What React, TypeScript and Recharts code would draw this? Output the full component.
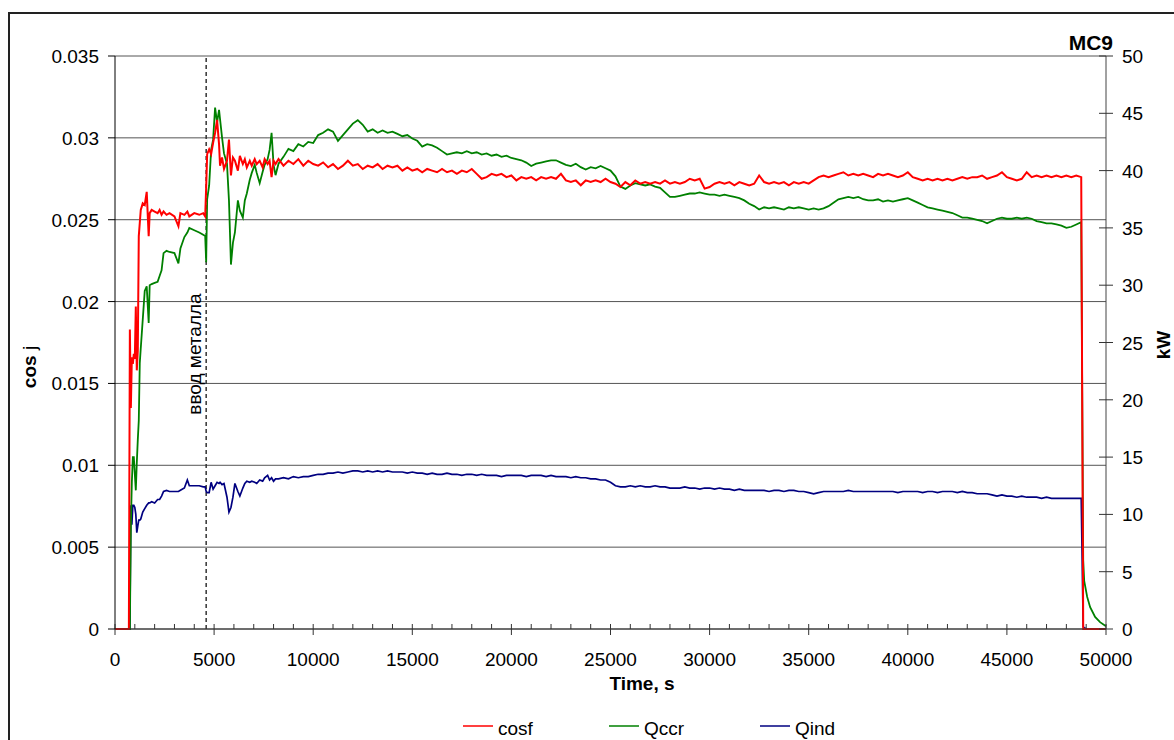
import React from "react";
import {
  LineChart,
  Line,
  XAxis,
  YAxis,
  CartesianGrid,
  ReferenceLine,
} from "recharts";

// time, s
const times = [
  0, 700, 750, 800, 850, 900, 950, 1000, 1050, 1100,
  1150, 1200, 1250, 1300, 1400, 1500, 1600, 1700, 1750, 1850,
  2000, 2150, 2250, 2350, 2450, 2600, 2750, 3000, 3200, 3300,
  3500, 3650, 3750, 4000, 4250, 4450, 4550, 4600, 4650, 4750,
  4850, 4950, 5050, 5150, 5250, 5300, 5400, 5500, 5650, 5750,
  5850, 5950, 6050, 6200, 6300, 6450, 6550, 6650, 6800, 6900,
  7050, 7150, 7300, 7450, 7550, 7700, 7800, 7900, 8000, 8100,
  8250, 8500, 8750, 9000, 9250, 9500, 9750, 10000,
  10250, 10500, 10750, 11000, 11250, 11500, 11750, 12000,
  12250, 12500, 12750, 13000, 13250, 13500, 13750, 14000,
  14250, 14500, 14750, 15000, 15250, 15500, 15750, 16000,
  16250, 16500, 16750, 17000, 17250, 17500, 17750, 18000,
  18250, 18500, 18750, 19000, 19250, 19500, 19750, 20000,
  20250, 20500, 20750, 21000, 21250, 21500, 21750, 22000,
  22250, 22500, 22750, 23000, 23250, 23500, 23750, 24000,
  24250, 24500, 24750, 25000, 25250, 25500, 25750, 26000,
  26250, 26500, 26750, 27000, 27250, 27500, 27750, 28000,
  28250, 28500, 28750, 29000, 29250, 29500, 29750, 30000,
  30250, 30500, 30750, 31000, 31250, 31500, 31750, 32000,
  32250, 32500, 32750, 33000, 33250, 33500, 33750, 34000,
  34250, 34500, 34750, 35000, 35250, 35500, 35750, 36000,
  36250, 36500, 36750, 37000, 37250, 37500, 37750, 38000,
  38250, 38500, 38750, 39000, 39250, 39500, 39750, 40000,
  40250, 40500, 40750, 41000, 41250, 41500, 41750, 42000,
  42250, 42500, 42750, 43000, 43250, 43500, 43750, 44000,
  44250, 44500, 44750, 45000, 45250, 45500, 45750, 46000,
  46250, 46500, 46750, 47000, 47250, 47500, 47750, 48000,
  48250, 48500, 48750,
  48850, 48900, 49050, 49200, 49450, 49700, 50000,
];

// cos j (left axis)
const cosf = [
  0, 0, 0.0183, 0.0135, 0.0166, 0.0162, 0.0168, 0.0165, 0.0197, 0.0158,
  0.017, 0.024, 0.0248, 0.0256, 0.026, 0.0259, 0.0267, 0.024, 0.0254, 0.0256,
  0.0255, 0.0254, 0.0256, 0.0253, 0.0255, 0.0253, 0.0254, 0.0252, 0.0246, 0.0254,
  0.0253, 0.0255, 0.0252, 0.0254, 0.0253, 0.0254, 0.0252, 0.027, 0.029, 0.0293,
  0.029, 0.0297, 0.0303, 0.0311, 0.0296, 0.0283, 0.0288, 0.0281, 0.0286, 0.0299,
  0.0277, 0.0288, 0.0286, 0.028, 0.0289, 0.0284, 0.0287, 0.0282, 0.0286, 0.0283,
  0.0287, 0.0284, 0.0286, 0.0282, 0.0287, 0.0284, 0.0286, 0.0276, 0.0286, 0.0284,
  0.0287, 0.0283, 0.0286, 0.0284, 0.0287, 0.0283, 0.0286, 0.0284,
  0.0283, 0.0285, 0.0282, 0.0284, 0.0281, 0.0283, 0.0286, 0.0283,
  0.0284, 0.0281, 0.0283, 0.0282, 0.0284, 0.0281, 0.0283, 0.0282,
  0.0283, 0.028, 0.0282, 0.028, 0.0281, 0.0279, 0.0281, 0.028,
  0.0279, 0.0281, 0.0279, 0.028, 0.0278, 0.028, 0.0279, 0.0281,
  0.0278, 0.0275, 0.0276, 0.0278, 0.0277, 0.0278, 0.0276, 0.0277,
  0.0274, 0.0276, 0.0275, 0.0276, 0.0274, 0.0276, 0.0275, 0.0276,
  0.0275, 0.0278, 0.0274, 0.0273, 0.0274, 0.0271, 0.0274, 0.0273,
  0.0274, 0.0273, 0.0275, 0.0273, 0.0272, 0.027, 0.0273, 0.0271,
  0.0274, 0.0272, 0.0273, 0.0272, 0.0273, 0.0272, 0.0274, 0.0272,
  0.0273, 0.0272, 0.0273, 0.0275, 0.0274, 0.0275, 0.0269, 0.027,
  0.0272, 0.0273, 0.0272, 0.0273, 0.0271, 0.0273, 0.0272, 0.0271,
  0.0272, 0.0277, 0.0273, 0.0272, 0.0273, 0.0272, 0.0273, 0.0271,
  0.0273, 0.0272, 0.0273, 0.0272, 0.0274, 0.0276, 0.0277, 0.0276,
  0.0277, 0.0278, 0.0279, 0.0277, 0.0278, 0.0277, 0.0278, 0.0277,
  0.0276, 0.0278, 0.0277, 0.0278, 0.0277, 0.0276, 0.0277, 0.0279,
  0.0276, 0.0275, 0.0274, 0.0275, 0.0274, 0.0275, 0.0274, 0.0275,
  0.0274, 0.0275, 0.0276, 0.0275, 0.0276, 0.0276, 0.0277, 0.0275,
  0.0276, 0.0277, 0.0279, 0.0276, 0.0275, 0.0274, 0.0275, 0.0279,
  0.0276, 0.0277, 0.0276, 0.0277, 0.0276, 0.0277, 0.0276, 0.0277,
  0.0276, 0.0277, 0.0276,
  0, 0, 0, 0, 0, 0, 0,
];

// Qccr, kW (right axis)
const qccr = [
  0, 0, 0, 9.0, 12.8, 15.0, 15.0, 13.5, 12.1, 14.5,
  16.5, 18.2, 23.2, 24.5, 27.0, 29.5, 29.9, 26.7, 30.0, 30.1,
  30.2, 30.3, 30.8, 31.3, 32.8, 33.0, 32.9, 32.8, 31.9, 33.2,
  34.2, 34.6, 35.0, 34.8, 34.6, 34.4, 34.3, 32.0, 37.5, 38.7,
  41.8, 42.7, 45.5, 44.2, 45.3, 44.5, 42.9, 41.5, 40.6, 37.4,
  31.8, 33.7, 34.6, 37.4, 36.5, 35.9, 37.4, 38.0, 39.2, 39.8,
  40.5, 39.8, 38.9, 39.9, 40.5, 41.0, 41.8, 43.3, 40.5, 39.6,
  40.6, 41.2, 41.9, 41.7, 42.3, 42.1, 42.5, 42.4,
  43.1, 43.3, 43.6, 43.4, 42.6, 43.1, 43.6, 44.1,
  44.4, 44.0, 43.4, 43.6, 43.3, 43.5, 43.3, 43.4,
  43.2, 43.0, 43.1, 42.8, 42.6, 42.1, 42.3, 42.2,
  42.0, 41.7, 41.4, 41.5, 41.6, 41.5, 41.7, 41.5,
  41.6, 41.4, 41.5, 41.3, 41.4, 41.2, 41.3, 41.1,
  41.0, 40.9, 40.7, 40.4, 40.6, 40.7, 40.8, 40.9,
  40.9, 40.7, 40.5, 40.4, 40.6, 40.3, 40.1, 40.3,
  40.2, 40.4, 40.2, 40.0, 39.5, 38.6, 38.4, 38.7,
  38.9, 38.8, 38.7, 38.8, 38.6, 38.5, 38.1, 37.7,
  37.7, 37.8, 37.9, 38.0, 38.0, 38.1, 38.0, 37.9,
  37.9, 37.8, 37.9, 37.8, 37.7, 37.6, 37.4, 37.1,
  36.9, 36.6, 36.8, 36.7, 36.8, 36.7, 36.6, 36.8,
  36.7, 36.8, 36.7, 36.6, 36.7, 36.6, 36.7, 36.9,
  37.2, 37.5, 37.6, 37.7, 37.6, 37.7, 37.5, 37.4,
  37.4, 37.5, 37.3, 37.4, 37.3, 37.4, 37.5, 37.6,
  37.4, 37.2, 37.0, 36.8, 36.7, 36.6, 36.5, 36.4,
  36.3, 36.1, 35.9, 35.9, 35.8, 35.7, 35.6, 35.4,
  35.6, 35.8, 35.9, 35.8, 35.8, 35.9, 35.8, 35.9,
  35.8, 35.6, 35.5, 35.4, 35.4, 35.3, 35.2, 35.0,
  35.1, 35.3, 35.5,
  6.0, 4.2, 2.8, 1.9, 1.05, 0.6, 0.25,
];

// Qind, kW (right axis)
const qind = [
  0, 0, 0, 10.8, 9.1, 10.8, 10.8, 10.6, 10.0, 8.4,
  9.0, 9.5, 9.5, 9.6, 10.2, 10.5, 10.8, 11.0, 11.0, 11.1,
  11.0, 11.3, 11.3, 11.6, 12.0, 12.1, 12.0, 12.0, 12.0, 12.1,
  12.3, 13.0, 12.5, 12.5, 12.5, 12.4, 12.4, 12.0, 11.9, 11.9,
  12.8, 12.2, 12.5, 12.8, 12.7, 12.8, 12.6, 12.7, 11.5, 10.2,
  10.6, 11.5, 12.7, 12.0, 11.6, 12.3, 12.7, 12.9, 12.8, 12.9,
  12.8, 12.7, 13.0, 12.9, 13.2, 13.4, 13.0, 13.2, 12.9, 13.1,
  13.1, 13.2, 13.1, 13.3, 13.2, 13.3, 13.3, 13.4,
  13.5, 13.5, 13.6, 13.6, 13.7, 13.6, 13.7, 13.8,
  13.8, 13.7, 13.8, 13.7, 13.8, 13.7, 13.8, 13.7,
  13.7, 13.7, 13.6, 13.7, 13.6, 13.6, 13.5, 13.6,
  13.5, 13.5, 13.6, 13.5, 13.5, 13.4, 13.5, 13.5,
  13.4, 13.5, 13.4, 13.4, 13.4, 13.3, 13.4, 13.4,
  13.4, 13.4, 13.3, 13.4, 13.4, 13.4, 13.3, 13.4,
  13.3, 13.3, 13.3, 13.2, 13.3, 13.2, 13.2, 13.1,
  13.1, 13.0, 13.0, 12.8, 12.5, 12.4, 12.4, 12.5,
  12.4, 12.5, 12.4, 12.4, 12.5, 12.4, 12.4, 12.3,
  12.3, 12.3, 12.4, 12.3, 12.3, 12.2, 12.3, 12.3,
  12.2, 12.3, 12.2, 12.2, 12.1, 12.2, 12.1, 12.1,
  12.1, 12.1, 12.1, 12.0, 12.1, 12.1, 12.0, 12.1,
  12.1, 12.0, 12.0, 11.9, 11.8, 11.9, 12.0, 12.0,
  12.0, 12.0, 12.0, 12.1, 12.0, 12.0, 12.0, 12.0,
  12.0, 12.0, 12.0, 12.0, 12.0, 11.9, 12.0, 12.0,
  12.0, 12.0, 11.9, 12.0, 12.0, 11.9, 12.0, 12.0,
  12.0, 11.9, 12.0, 11.9, 11.9, 11.8, 11.8, 11.8,
  11.7, 11.6, 11.7, 11.6, 11.6, 11.5, 11.6, 11.5,
  11.5, 11.5, 11.4, 11.5, 11.4, 11.4, 11.4, 11.4,
  11.4, 11.4, 11.4,
  0.2, 0.1, 0, 0, 0, 0, 0,
];

const timeTicks = [
  0, 1000, 2000, 3000, 4000, 5000, 6000, 7000, 8000, 9000,
  10000, 11000, 12000, 13000, 14000, 15000, 16000, 17000, 18000, 19000,
  20000, 21000, 22000, 23000, 24000, 25000, 26000, 27000, 28000, 29000,
  30000, 31000, 32000, 33000, 34000, 35000, 36000, 37000, 38000, 39000,
  40000, 41000, 42000, 43000, 44000, 45000, 46000, 47000, 48000, 49000,
  50000,
];
const cosTicks = [0, 0.005, 0.01, 0.015, 0.02, 0.025, 0.03, 0.035];
const kwTicks = [0, 5, 10, 15, 20, 25, 30, 35, 40, 45, 50];

const metalInTime = 4600;

const seriesNames = ["cosf", "Qccr", "Qind"];
const seriesColors = ["#ff0000", "#008000", "#000080"];

const data = times.map((t, i) => ({
  t,
  cosf: cosf[i],
  qccr: qccr[i],
  qind: qind[i],
}));

const FONT = "'Liberation Sans', Arial, sans-serif";

function TimeTick({ x, y, payload }: any) {
  const major = payload.value % 5000 === 0;
  return (
    <g>
      <line x1={x} x2={x} y1={y - 5} y2={major ? y + 6 : y} stroke="#333" />
      {major && (
        <text x={x} y={y + 37} textAnchor="middle" fontSize={19} fill="#000" fontFamily={FONT}>
          {payload.value}
        </text>
      )}
    </g>
  );
}

function CosTick({ x, y, payload }: any) {
  return (
    <g>
      <line x1={x - 7} x2={x} y1={y} y2={y} stroke="#000" />
      <text x={x - 16} y={y + 7} textAnchor="end" fontSize={19} fill="#000" fontFamily={FONT}>
        {payload.value}
      </text>
    </g>
  );
}

function KwTick({ x, y, payload }: any) {
  return (
    <g>
      <line x1={x - 7} x2={x + 7} y1={y} y2={y} stroke="#333" />
      <text x={x + 16} y={y + 7} textAnchor="start" fontSize={19} fill="#000" fontFamily={FONT}>
        {payload.value}
      </text>
    </g>
  );
}

const legendX = [463, 609, 760];

export default function App() {
  return (
    <div style={{ position: "relative", width: 1174, height: 740, overflow: "hidden", background: "#fff" }}>
      <style>{`body{margin:0;overflow:hidden}`}</style>
      <div
        style={{
          position: "absolute",
          left: 8,
          top: 12,
          width: 1180,
          height: 760,
          border: "2px solid #222",
        }}
      />
      <div style={{ position: "absolute", left: 0, top: 0 }}>
        <LineChart
          width={1174}
          height={740}
          data={data}
          margin={{ top: 56, right: 8, bottom: 71, left: 55 }}
        >
          <CartesianGrid yAxisId="left" vertical={false} stroke="#555" strokeWidth={1} />
          <XAxis
            dataKey="t"
            type="number"
            domain={[0, 50000]}
            ticks={timeTicks}
            interval={0}
            height={40}
            tickSize={0}
            tickMargin={0}
            tick={<TimeTick />}
            axisLine={{ stroke: "#333" }}
          />
          <YAxis
            yAxisId="left"
            type="number"
            domain={[0, 0.035]}
            ticks={cosTicks}
            interval={0}
            width={60}
            tickSize={0}
            tickMargin={0}
            tick={<CosTick />}
            axisLine={{ stroke: "#000" }}
          />
          <YAxis
            yAxisId="right"
            orientation="right"
            type="number"
            domain={[0, 50]}
            ticks={kwTicks}
            interval={0}
            width={60}
            tickSize={0}
            tickMargin={0}
            tick={<KwTick />}
            axisLine={{ stroke: "#444" }}
          />
          <ReferenceLine
            yAxisId="left"
            x={metalInTime}
            stroke="#333"
            strokeWidth={1.5}
            strokeDasharray="4 3"
          />
          <Line
            yAxisId="right"
            dataKey="qind"
            stroke={seriesColors[2]}
            strokeWidth={1.7}
            dot={false}
            isAnimationActive={false}
            type="linear"
          />
          <Line
            yAxisId="right"
            dataKey="qccr"
            stroke={seriesColors[1]}
            strokeWidth={1.8}
            dot={false}
            isAnimationActive={false}
            type="linear"
          />
          <Line
            yAxisId="left"
            dataKey="cosf"
            stroke={seriesColors[0]}
            strokeWidth={2}
            dot={false}
            isAnimationActive={false}
            type="linear"
          />
        </LineChart>
      </div>
      <svg
        width={1174}
        height={740}
        style={{ position: "absolute", left: 0, top: 0, pointerEvents: "none" }}
        fontFamily={FONT}
      >
        <text x={1113} y={50} textAnchor="end" fontSize={21} fontWeight="bold">
          MC9
        </text>
        <text transform="translate(36,367) rotate(-90)" textAnchor="middle" fontSize={19}>
          <tspan fontWeight="bold">cos</tspan>
          <tspan> j</tspan>
        </text>
        <text transform="translate(1170,345) rotate(-90)" textAnchor="middle" fontSize={19} fontWeight="bold">
          kW
        </text>
        <text x={642} y={690} textAnchor="middle" fontSize={19} fontWeight="bold">
          Time, s
        </text>
        <text transform="translate(201,354) rotate(-90)" textAnchor="middle" fontSize={19}>
          ввод металла
        </text>
        {seriesNames.map((name, i) => (
          <g key={name}>
            <line x1={legendX[i]} x2={legendX[i] + 30} y1={726} y2={726} stroke={seriesColors[i]} strokeWidth={1.5} />
            <text x={legendX[i] + 35} y={735} fontSize={19}>
              {name}
            </text>
          </g>
        ))}
      </svg>
    </div>
  );
}
